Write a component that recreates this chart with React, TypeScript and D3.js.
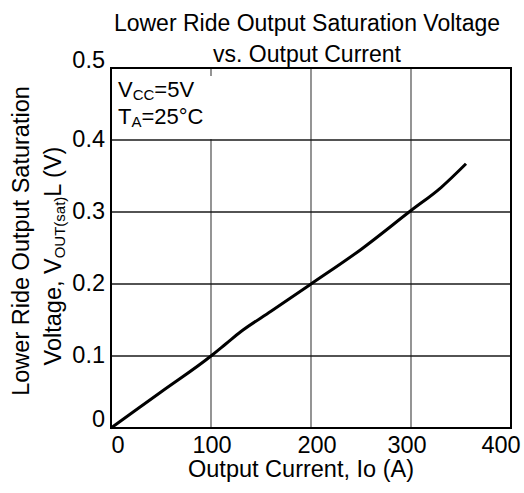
import { useEffect, useRef } from "react";
import * as d3 from "d3";

// Output current (A) and lower side saturation voltage (V)
const currentA = [0, 50, 100, 115, 130, 160, 200, 250, 300, 330, 355];
const voltageV = [0, 0.05, 0.1, 0.117, 0.134, 0.162, 0.2, 0.248, 0.302, 0.334, 0.367];

const xTicks = [0, 100, 200, 300, 400];
const yTicks = [0, 0.1, 0.2, 0.3, 0.4, 0.5];
const yTickLabels = ["0", "0.1", "0.2", "0.3", "0.4", "0.5"];
const titleLines = ["Lower Ride Output Saturation Voltage", "vs. Output Current"];

const W = 524,
  H = 493;
const font = "'Liberation Sans', Arial, Helvetica, sans-serif";

function Chart() {
  const ref = useRef<SVGSVGElement>(null);

  useEffect(() => {
    if (!ref.current) return;
    const svg = d3.select(ref.current);
    svg.selectAll("*").remove();

    const x = d3.scaleLinear().domain([0, 400]).range([111, 511]);
    const y = d3.scaleLinear().domain([0, 0.5]).range([428, 68]);

    // grid
    svg
      .append("g")
      .selectAll("line")
      .data(xTicks.slice(1, -1))
      .enter()
      .append("line")
      .attr("x1", (d) => x(d))
      .attr("x2", (d) => x(d))
      .attr("y1", y(0.5))
      .attr("y2", y(0))
      .attr("stroke", "#7a7a7a")
      .attr("stroke-width", 1.6);

    svg
      .append("g")
      .selectAll("line")
      .data(yTicks.slice(1, -1))
      .enter()
      .append("line")
      .attr("x1", x(0))
      .attr("x2", x(400))
      .attr("y1", (d) => y(d))
      .attr("y2", (d) => y(d))
      .attr("stroke", "#1a1a1a")
      .attr("stroke-width", 1.4);

    // white box behind the conditions text
    svg
      .append("rect")
      .attr("x", x(0) + 1)
      .attr("y", y(0.5) + 8)
      .attr("width", 103)
      .attr("height", 63)
      .attr("fill", "#fff");

    // frame
    svg
      .append("rect")
      .attr("x", x(0))
      .attr("y", y(0.5))
      .attr("width", x(400) - x(0))
      .attr("height", y(0) - y(0.5))
      .attr("fill", "none")
      .attr("stroke", "#000")
      .attr("stroke-width", 2);

    // curve
    const line = d3
      .line<number>()
      .x((d) => x(d))
      .y((_, i) => y(voltageV[i]))
      .curve(d3.curveMonotoneX);

    svg
      .append("path")
      .attr("d", line(currentA))
      .attr("fill", "none")
      .attr("stroke", "#000")
      .attr("stroke-width", 3);

    const txt = svg.append("g").style("font-family", font).attr("fill", "#000");

    // x tick labels (nudged like the original artwork)
    const xNudge: Record<number, number> = { 0: 7, 100: 1, 200: 6, 300: -4, 400: -10 };
    txt
      .append("g")
      .selectAll("text")
      .data(xTicks)
      .enter()
      .append("text")
      .attr("x", (d) => x(d) + xNudge[d])
      .attr("y", 453)
      .attr("text-anchor", "middle")
      .style("font-size", "23.5px")
      .text((d) => d);

    // y tick labels
    txt
      .append("g")
      .selectAll("text")
      .data(yTicks)
      .enter()
      .append("text")
      .attr("x", 105)
      .attr("y", (d) => y(d) + (d === 0 ? -1 : d === 0.5 ? 0 : 7))
      .attr("text-anchor", "end")
      .style("font-size", "23.5px")
      .text((_, i) => yTickLabels[i]);

    // title
    txt
      .selectAll("text.title")
      .data(titleLines)
      .enter()
      .append("text")
      .attr("class", "title")
      .attr("x", 307)
      .attr("y", (_, i) => 31 + i * 31)
      .attr("text-anchor", "middle")
      .style("font-size", "23px")
      .text((d) => d);

    // x axis title
    txt
      .append("text")
      .attr("x", 301)
      .attr("y", 477)
      .attr("text-anchor", "middle")
      .style("font-size", "23.5px")
      .text("Output Current, Io (A)");

    // y axis title
    txt
      .append("text")
      .attr("transform", "translate(29,241) rotate(-90)")
      .attr("text-anchor", "middle")
      .style("font-size", "23.5px")
      .text("Lower Ride Output Saturation");

    const yt2 = txt
      .append("text")
      .attr("transform", "translate(61,256) rotate(-90)")
      .attr("text-anchor", "middle")
      .style("font-size", "23.5px");
    yt2.append("tspan").text("Voltage, V");
    yt2.append("tspan").attr("dy", 4).style("font-size", "15px").text("OUT(sat)");
    yt2.append("tspan").attr("dy", -4).text("L (V)");

    // conditions
    const c1 = txt.append("text").attr("x", 118).attr("y", 97).style("font-size", "22px");
    c1.append("tspan").text("V");
    c1.append("tspan").attr("dy", 3).style("font-size", "15px").text("CC");
    c1.append("tspan").attr("dy", -3).text("=5V");

    const c2 = txt.append("text").attr("x", 118).attr("y", 124).style("font-size", "22px");
    c2.append("tspan").text("T");
    c2.append("tspan").attr("dy", 3).style("font-size", "15px").text("A");
    c2.append("tspan").attr("dy", -3).text("=25°C");
  }, []);

  return (
    <svg
      ref={ref}
      width={W}
      height={H}
      style={{ position: "absolute", left: 0, top: 0, background: "#fff" }}
    />
  );
}

export default function App() {
  return <Chart />;
}
